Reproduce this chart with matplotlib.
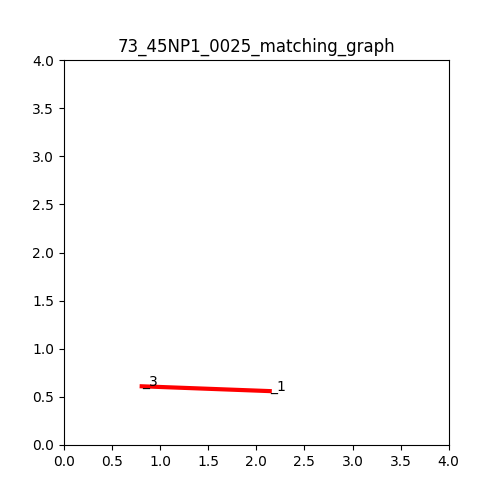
import matplotlib
matplotlib.use('Agg')
import matplotlib.pyplot as plt

node_names = ['3', '1']
node_x = [0.81, 2.14]
node_y = [0.61, 0.56]

fig, ax = plt.subplots(figsize=(5, 5), dpi=100)
ax.plot(node_x, node_y, color='red', linewidth=3)
for n, x, y in zip(node_names, node_x, node_y):
    ax.text(x, y, '_' + n, fontsize=10, va='baseline', ha='left')
ax.set_xlim(0, 4)
ax.set_ylim(0, 4)
ax.set_title('73_45NP1_0025_matching_graph')
ax.set_aspect('equal')
fig.savefig('out.png')
